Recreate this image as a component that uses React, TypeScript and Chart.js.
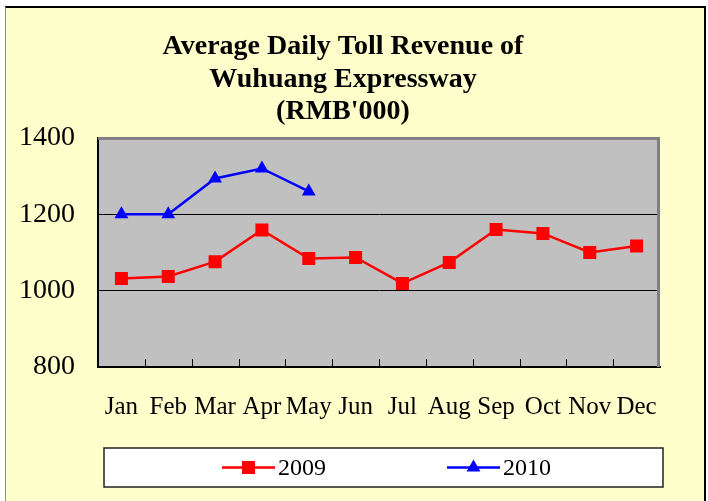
import React, { useEffect, useRef } from "react";
import { Chart, registerables } from "chart.js";

Chart.register(...registerables);

const months = ["Jan", "Feb", "Mar", "Apr", "May", "Jun", "Jul", "Aug", "Sep", "Oct", "Nov", "Dec"];
const rev2009 = [1032, 1037, 1076, 1159, 1084, 1087, 1019, 1074, 1160, 1150, 1100, 1117];
const rev2010 = [1200, 1200, 1294, 1320, 1260, null, null, null, null, null, null, null];
const seriesLabels = ["2009", "2010"];
const seriesColors = ["#FF0000", "#0000FF"];
const seriesMarkers = ["rect", "triangle"];
const yMin = 800;
const yMax = 1400;
const yStep = 200;
const titleLines = ["Average Daily Toll Revenue of", "Wuhuang Expressway", "(RMB'000)"];

const SERIF = "'Liberation Serif', 'Times New Roman', serif";

function drawMarker(ctx: CanvasRenderingContext2D, style: string, x: number, y: number, color: string) {
  ctx.save();
  ctx.fillStyle = color;
  if (style === "rect") {
    ctx.fillRect(x - 6.5, y - 6.5, 13, 13);
  } else {
    const r = 8;
    ctx.beginPath();
    ctx.moveTo(x, y - r);
    ctx.lineTo(x + r * 0.866, y + r / 2);
    ctx.lineTo(x - r * 0.866, y + r / 2);
    ctx.closePath();
    ctx.fill();
  }
  ctx.restore();
}

const plotFramePlugin = {
  id: "plotFrame",
  beforeDraw(chart: any) {
    const { ctx, chartArea: a } = chart;
    ctx.save();
    ctx.fillStyle = "#C0C0C0";
    ctx.fillRect(a.left, a.top, a.right - a.left, a.bottom - a.top);
    ctx.restore();
  },
  beforeDatasetsDraw(chart: any) {
    const { ctx, chartArea: a } = chart;
    const xs = chart.scales.x;
    ctx.save();
    ctx.fillStyle = "#808080";
    ctx.fillRect(a.left, a.top - 1, a.right - a.left, 3);
    ctx.fillRect(a.right - 3, a.top - 1, 3, a.bottom - a.top + 1);
    ctx.strokeStyle = "#000000";
    ctx.lineWidth = 1;
    ctx.beginPath();
    for (let i = 0; i < months.length - 1; i++) {
      const px = Math.round((xs.getPixelForValue(i) + xs.getPixelForValue(i + 1)) / 2) + 0.5;
      ctx.moveTo(px, a.bottom);
      ctx.lineTo(px, a.bottom - 8);
    }
    ctx.stroke();
    ctx.restore();
  },
  afterDraw(chart: any) {
    const { ctx, chartArea: a } = chart;
    const boxL = a.left + 6;
    const boxR = a.right + 3;
    const boxT = a.bottom + 81;
    const boxB = a.bottom + 120;
    ctx.save();
    ctx.fillStyle = "#FFFFFF";
    ctx.fillRect(boxL, boxT, boxR - boxL, boxB - boxT);
    ctx.strokeStyle = "#222222";
    ctx.lineWidth = 1.5;
    ctx.strokeRect(boxL, boxT, boxR - boxL, boxB - boxT);
    const cy = (boxT + boxB) / 2;
    ctx.font = "24px " + SERIF;
    ctx.textBaseline = "middle";
    ctx.textAlign = "left";
    chart.data.datasets.forEach((ds: any, i: number) => {
      const x0 = boxL + 118 + i * 225;
      ctx.strokeStyle = ds.borderColor;
      ctx.lineWidth = 2.5;
      ctx.beginPath();
      ctx.moveTo(x0, cy);
      ctx.lineTo(x0 + 53, cy);
      ctx.stroke();
      drawMarker(ctx, ds.pointStyle, x0 + 26.5, cy, ds.borderColor);
      ctx.fillStyle = "#000000";
      ctx.fillText(ds.label, x0 + 56, cy + 1);
    });
    ctx.restore();
  },
};

export default function App() {
  const canvasRef = useRef<HTMLCanvasElement | null>(null);

  useEffect(() => {
    const canvas = canvasRef.current;
    if (!canvas) return;
    const chart = new Chart(canvas, {
      type: "line",
      data: {
        labels: months,
        datasets: [rev2009, rev2010].map((values, i) => ({
          label: seriesLabels[i],
          data: values,
          borderColor: seriesColors[i],
          backgroundColor: seriesColors[i],
          borderWidth: 2.5,
          pointStyle: seriesMarkers[i],
          pointRadius: i === 0 ? 9.2 : 8,
          pointBorderWidth: 0,
          pointBackgroundColor: seriesColors[i],
          tension: 0,
          spanGaps: false,
          yAxisID: "y",
        })),
      },
      options: {
        responsive: false,
        animation: false,
        devicePixelRatio: 1,
        layout: { padding: { left: 0, right: 22, top: 0, bottom: 0 } },
        plugins: {
          legend: { display: false },
          tooltip: { enabled: false },
          title: {
            display: true,
            text: titleLines,
            color: "#000000",
            font: { family: SERIF, size: 28, weight: "bold", lineHeight: 1.16 },
            padding: { top: 31, bottom: 9.5 },
          },
        },
        scales: {
          x: {
            type: "category",
            offset: true,
            grid: { display: false, drawTicks: false, offset: true },
            border: { display: true, color: "#000000", width: 2 },
            ticks: {
              color: "#000000",
              font: { family: SERIF, size: 25 },
              padding: 25,
              maxRotation: 0,
              minRotation: 0,
              autoSkip: false,
            },
            afterFit(scale: any) {
              scale.height = 134;
            },
          },
          y: {
            position: "left",
            min: yMin,
            max: yMax,
            grid: { color: "#000000", lineWidth: 1, drawTicks: false },
            border: { display: true, color: "#000000", width: 2 },
            ticks: {
              stepSize: yStep,
              color: "#000000",
              font: { family: SERIF, size: 28 },
              padding: 23,
              callback: (v: any) => String(v),
            },
            afterFit(scale: any) {
              scale.width = 98;
            },
          },
          yRight: {
            position: "right",
            display: true,
            min: yMin,
            max: yMax,
            grid: { display: false, drawTicks: false },
            border: { display: false },
            ticks: { display: false },
            afterFit(scale: any) {
              scale.width = 26;
            },
          },
        },
      },
      plugins: [plotFramePlugin],
    });
    return () => chart.destroy();
  }, []);

  return (
    <div style={{ position: "absolute", left: 0, top: 0, width: 708, height: 501, background: "#FFFFFF", overflow: "hidden" }}>
      <div
        style={{
          position: "absolute",
          left: 5,
          top: 6,
          width: 698,
          height: 500,
          background: "#FFFFCC",
          borderTop: "2px solid #000000",
          borderRight: "2px solid #000000",
          borderLeft: "1px solid #8C8C80",
        }}
      />
      <canvas
        ref={canvasRef}
        width={708}
        height={501}
        style={{ position: "absolute", left: 0, top: 0, width: 708, height: 501 }}
      />
    </div>
  );
}
